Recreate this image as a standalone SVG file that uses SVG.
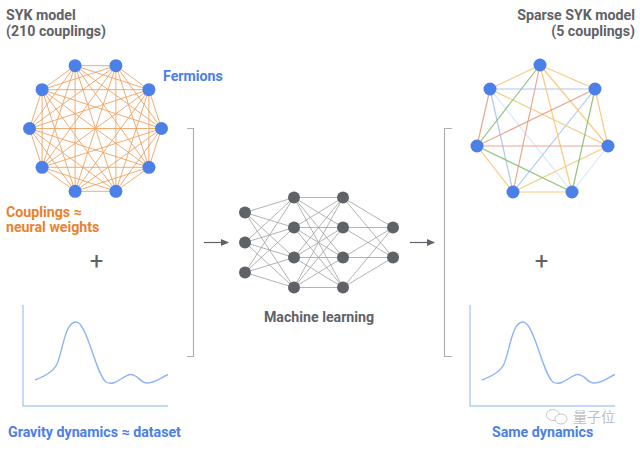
<svg xmlns="http://www.w3.org/2000/svg" width="640" height="450" viewBox="0 0 640 450">
<style>
.t{font-family:Roboto,"Liberation Sans",sans-serif;font-weight:700;font-size:14.2px}
.g{fill:#5f6368}
.b{fill:#4a80e8}
.o{fill:#e8822f}
.fn{fill:#4a80e8}
.nn{fill:#5f6368}
.le{stroke:#ee9e5a;stroke-width:1;stroke-opacity:0.85}
.ne{stroke:#a0a0a0;stroke-width:0.8}
.ro{stroke:#f9cb7f;stroke-width:1.2}
.rr{stroke:#eba58f;stroke-width:1.2}
.rg{stroke:#93c47d;stroke-width:1.2}
.rb{stroke:#a9c8f5;stroke-width:1.2}
.rf{stroke:#d8e6fb;stroke-width:1.2}
.br{fill:none;stroke:#b0b0b0;stroke-width:1.2}
.ax{fill:none;stroke:#aecbfa;stroke-width:1.4}
.cv{fill:none;stroke:#8fb4f5;stroke-width:1.4}
</style>
<defs>
<marker id="ah" markerWidth="8" markerHeight="8" refX="7" refY="4" orient="auto" markerUnits="userSpaceOnUse">
<path d="M0,0.5 L8,4 L0,7.5 Z" fill="#5f6368"/>
</marker>
</defs>
<rect width="640" height="450" fill="#ffffff"/>

<g id="connectors">
<g id="syk-edges">
<line class="le" x1="161.5" y1="128.5" x2="148.9" y2="167.3"/>
<line class="le" x1="161.5" y1="128.5" x2="115.9" y2="191.3"/>
<line class="le" x1="161.5" y1="128.5" x2="75.1" y2="191.3"/>
<line class="le" x1="161.5" y1="128.5" x2="42.1" y2="167.3"/>
<line class="le" x1="161.5" y1="128.5" x2="29.5" y2="128.5"/>
<line class="le" x1="161.5" y1="128.5" x2="42.1" y2="89.7"/>
<line class="le" x1="161.5" y1="128.5" x2="75.1" y2="65.7"/>
<line class="le" x1="161.5" y1="128.5" x2="115.9" y2="65.7"/>
<line class="le" x1="161.5" y1="128.5" x2="148.9" y2="89.7"/>
<line class="le" x1="148.9" y1="167.3" x2="115.9" y2="191.3"/>
<line class="le" x1="148.9" y1="167.3" x2="75.1" y2="191.3"/>
<line class="le" x1="148.9" y1="167.3" x2="42.1" y2="167.3"/>
<line class="le" x1="148.9" y1="167.3" x2="29.5" y2="128.5"/>
<line class="le" x1="148.9" y1="167.3" x2="42.1" y2="89.7"/>
<line class="le" x1="148.9" y1="167.3" x2="75.1" y2="65.7"/>
<line class="le" x1="148.9" y1="167.3" x2="115.9" y2="65.7"/>
<line class="le" x1="148.9" y1="167.3" x2="148.9" y2="89.7"/>
<line class="le" x1="115.9" y1="191.3" x2="75.1" y2="191.3"/>
<line class="le" x1="115.9" y1="191.3" x2="42.1" y2="167.3"/>
<line class="le" x1="115.9" y1="191.3" x2="29.5" y2="128.5"/>
<line class="le" x1="115.9" y1="191.3" x2="42.1" y2="89.7"/>
<line class="le" x1="115.9" y1="191.3" x2="75.1" y2="65.7"/>
<line class="le" x1="115.9" y1="191.3" x2="115.9" y2="65.7"/>
<line class="le" x1="115.9" y1="191.3" x2="148.9" y2="89.7"/>
<line class="le" x1="75.1" y1="191.3" x2="42.1" y2="167.3"/>
<line class="le" x1="75.1" y1="191.3" x2="29.5" y2="128.5"/>
<line class="le" x1="75.1" y1="191.3" x2="42.1" y2="89.7"/>
<line class="le" x1="75.1" y1="191.3" x2="75.1" y2="65.7"/>
<line class="le" x1="75.1" y1="191.3" x2="115.9" y2="65.7"/>
<line class="le" x1="75.1" y1="191.3" x2="148.9" y2="89.7"/>
<line class="le" x1="42.1" y1="167.3" x2="29.5" y2="128.5"/>
<line class="le" x1="42.1" y1="167.3" x2="42.1" y2="89.7"/>
<line class="le" x1="42.1" y1="167.3" x2="75.1" y2="65.7"/>
<line class="le" x1="42.1" y1="167.3" x2="115.9" y2="65.7"/>
<line class="le" x1="42.1" y1="167.3" x2="148.9" y2="89.7"/>
<line class="le" x1="29.5" y1="128.5" x2="42.1" y2="89.7"/>
<line class="le" x1="29.5" y1="128.5" x2="75.1" y2="65.7"/>
<line class="le" x1="29.5" y1="128.5" x2="115.9" y2="65.7"/>
<line class="le" x1="29.5" y1="128.5" x2="148.9" y2="89.7"/>
<line class="le" x1="42.1" y1="89.7" x2="75.1" y2="65.7"/>
<line class="le" x1="42.1" y1="89.7" x2="115.9" y2="65.7"/>
<line class="le" x1="42.1" y1="89.7" x2="148.9" y2="89.7"/>
<line class="le" x1="75.1" y1="65.7" x2="115.9" y2="65.7"/>
<line class="le" x1="75.1" y1="65.7" x2="148.9" y2="89.7"/>
<line class="le" x1="115.9" y1="65.7" x2="148.9" y2="89.7"/>
</g>
<g id="sparse-edges">
<line class="rf" x1="490" y1="89" x2="572" y2="192"/>
<line class="rf" x1="608" y1="146" x2="572" y2="192"/>
<line class="rb" x1="490" y1="89" x2="595" y2="89"/>
<line class="rb" x1="490" y1="89" x2="513" y2="192"/>
<line class="rb" x1="595" y1="89" x2="513" y2="192"/>
<line class="ro" x1="540" y1="65" x2="490" y2="89"/>
<line class="ro" x1="540" y1="65" x2="595" y2="89"/>
<line class="ro" x1="540" y1="65" x2="608" y2="146"/>
<line class="ro" x1="540" y1="65" x2="572" y2="192"/>
<line class="ro" x1="490" y1="89" x2="608" y2="146"/>
<line class="ro" x1="595" y1="89" x2="608" y2="146"/>
<line class="ro" x1="477" y1="146" x2="513" y2="192"/>
<line class="ro" x1="608" y1="146" x2="513" y2="192"/>
<line class="ro" x1="513" y1="192" x2="572" y2="192"/>
<line class="rr" x1="540" y1="65" x2="513" y2="192"/>
<line class="rr" x1="490" y1="89" x2="477" y2="146"/>
<line class="rr" x1="595" y1="89" x2="477" y2="146"/>
<line class="rr" x1="477" y1="146" x2="608" y2="146"/>
<line class="rg" x1="540" y1="65" x2="477" y2="146"/>
<line class="rg" x1="595" y1="89" x2="572" y2="192"/>
<line class="rg" x1="477" y1="146" x2="572" y2="192"/>
</g>
<g id="nn-edges">
<path class="ne" fill="none" d="
M245,212.5L294,197.5M245,212.5L294,227.5M245,212.5L294,257.5M245,212.5L294,287.5
M245,242.5L294,197.5M245,242.5L294,227.5M245,242.5L294,257.5M245,242.5L294,287.5
M245,272.5L294,197.5M245,272.5L294,227.5M245,272.5L294,257.5M245,272.5L294,287.5
M294,197.5L343,197.5M294,197.5L343,227.5M294,197.5L343,257.5M294,197.5L343,287.5
M294,227.5L343,197.5M294,227.5L343,227.5M294,227.5L343,257.5M294,227.5L343,287.5
M294,257.5L343,197.5M294,257.5L343,227.5M294,257.5L343,257.5M294,257.5L343,287.5
M294,287.5L343,197.5M294,287.5L343,227.5M294,287.5L343,257.5M294,287.5L343,287.5
M343,197.5L393,227.5M343,227.5L393,227.5M343,257.5L393,227.5M343,287.5L393,227.5
M343,197.5L393,257.5M343,227.5L393,257.5M343,257.5L393,257.5M343,287.5L393,257.5"/>
</g>
<line x1="204" y1="242.5" x2="228" y2="242.5" stroke="#5f6368" stroke-width="1.2" marker-end="url(#ah)"/>
<line x1="410" y1="242.5" x2="434" y2="242.5" stroke="#5f6368" stroke-width="1.2" marker-end="url(#ah)"/>
<path class="br" d="M187,128.5H193.5V356.5H187"/>
<path class="br" d="M452,128.5H444.5V356.5H452"/>
</g>

<g id="syk-nodes">
<circle class="fn" cx="161.5" cy="128.5" r="6.5"/>
<circle class="fn" cx="148.9" cy="167.3" r="6.5"/>
<circle class="fn" cx="115.9" cy="191.3" r="6.5"/>
<circle class="fn" cx="75.1" cy="191.3" r="6.5"/>
<circle class="fn" cx="42.1" cy="167.3" r="6.5"/>
<circle class="fn" cx="29.5" cy="128.5" r="6.5"/>
<circle class="fn" cx="42.1" cy="89.7" r="6.5"/>
<circle class="fn" cx="75.1" cy="65.7" r="6.5"/>
<circle class="fn" cx="115.9" cy="65.7" r="6.5"/>
<circle class="fn" cx="148.9" cy="89.7" r="6.5"/>
</g>

<g id="sparse-nodes">
<circle class="fn" cx="540" cy="65" r="6.5"/>
<circle class="fn" cx="490" cy="89" r="6.5"/>
<circle class="fn" cx="595" cy="89" r="6.5"/>
<circle class="fn" cx="477" cy="146" r="6.5"/>
<circle class="fn" cx="608" cy="146" r="6.5"/>
<circle class="fn" cx="513" cy="192" r="6.5"/>
<circle class="fn" cx="572" cy="192" r="6.5"/>
</g>

<g id="nn-nodes">
<circle class="nn" cx="245" cy="212.5" r="6"/>
<circle class="nn" cx="245" cy="242.5" r="6"/>
<circle class="nn" cx="245" cy="272.5" r="6"/>
<circle class="nn" cx="294" cy="197.5" r="6"/>
<circle class="nn" cx="294" cy="227.5" r="6"/>
<circle class="nn" cx="294" cy="257.5" r="6"/>
<circle class="nn" cx="294" cy="287.5" r="6"/>
<circle class="nn" cx="343" cy="197.5" r="6"/>
<circle class="nn" cx="343" cy="227.5" r="6"/>
<circle class="nn" cx="343" cy="257.5" r="6"/>
<circle class="nn" cx="343" cy="287.5" r="6"/>
<circle class="nn" cx="393" cy="227.5" r="6"/>
<circle class="nn" cx="393" cy="257.5" r="6"/>
</g>

<g id="left-plot">
<path class="ax" d="M23,305V406H168"/>
<path class="cv" d="M35,380C45,376 53,372 57,364C63,350 65,322 76,322C87,322 96,375 106,382C115,387 122,376 130,374.5C138,374 140,383 147,383C156,383 160,378 168,374.5"/>
</g>
<g id="right-plot">
<path class="ax" d="M470,305V406H615"/>
<path class="cv" d="M482,380C492,376 500,372 504,364C510,350 512,322 523,322C534,322 543,375 553,382C562,387 569,376 577,374.5C585,374 587,383 594,383C603,383 607,378 615,374.5"/>
</g>

<g id="labels">
<text class="t g" x="6" y="20">SYK model</text>
<text class="t g" x="6" y="36">(210 couplings)</text>
<text class="t b" x="163" y="81">Fermions</text>
<text class="t g" x="635" y="20" text-anchor="end">Sparse SYK model</text>
<text class="t g" x="635" y="36" text-anchor="end">(5 couplings)</text>
<text class="t o" x="6" y="217">Couplings ≈</text>
<text class="t o" x="6" y="232">neural weights</text>
<text x="96.5" y="269" text-anchor="middle" font-family="Roboto,'Liberation Sans',sans-serif" font-size="24" fill="#5f6368">+</text>
<text x="541.5" y="269" text-anchor="middle" font-family="Roboto,'Liberation Sans',sans-serif" font-size="24" fill="#5f6368">+</text>
<text class="t g" x="319" y="322" text-anchor="middle">Machine learning</text>
<text class="t b" x="8" y="437">Gravity dynamics ≈ dataset</text>
<text class="t b" x="492" y="437">Same dynamics</text>
</g>

<g id="watermark" opacity="0.55">
<ellipse cx="553" cy="415" rx="6.5" ry="5.5" fill="#ffffff" stroke="#9a9a9a" stroke-width="1"/>
<ellipse cx="561" cy="419" rx="6" ry="5" fill="#ffffff" stroke="#9a9a9a" stroke-width="1"/>
<text x="573" y="422" font-family="'Noto Sans CJK SC',sans-serif" font-size="14" fill="#8a8a8a">量子位</text>
</g>
</svg>
